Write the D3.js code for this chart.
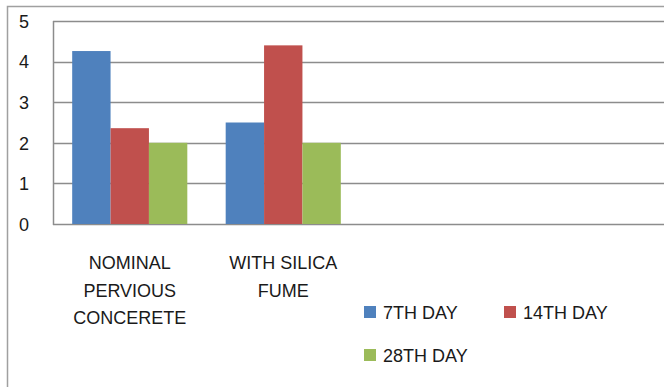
<!DOCTYPE html>
<html>
<head>
<meta charset="utf-8">
<script src="https://cdn.jsdelivr.net/npm/d3@7"></script>
<style>
  html, body { margin: 0; padding: 0; background: #fff; }
  svg { display: block; font-family: "Liberation Sans", Arial, sans-serif; }
</style>
</head>
<body>
<div id="chart"></div>
<script>
// Compressive strength by curing age - two mixes
const categories = [
  ['NOMINAL', 'PERVIOUS', 'CONCERETE'],
  ['WITH SILICA', 'FUME']
];
const seriesNames = ['7TH DAY', '14TH DAY', '28TH DAY'];
const day7 = [4.26, 2.5];
const day14 = [2.36, 4.4];
const day28 = [2.0, 2.0];
const yTicks = [0, 1, 2, 3, 4, 5];
const colors = ['#4F81BD', '#C0504D', '#9BBB59'];

const width = 664, height = 387;
const margin = { top: 21, left: 53, bottom: 224 };
const bandWidth = 153.5;

const svg = d3.select('#chart')
  .append('svg')
  .attr('width', width)
  .attr('height', height);

// outer chart border (cropped on right/bottom)
svg.append('path')
  .attr('d', `M7.5,${height} V6.5 H${width}`)
  .attr('fill', 'none')
  .attr('stroke', '#a0a0a0')
  .attr('stroke-width', 1.5);

const catIdx = categories.map((d, i) => i);
const x0 = d3.scaleBand()
  .domain(catIdx)
  .range([margin.left, margin.left + bandWidth * categories.length])
  .paddingInner(0.25)
  .paddingOuter(0.125);

const x1 = d3.scaleBand()
  .domain(seriesNames)
  .range([0, x0.bandwidth()]);

const y = d3.scaleLinear()
  .domain([0, 5])
  .range([margin.bottom, margin.top]);

// gridlines
svg.append('g')
  .selectAll('line')
  .data(yTicks)
  .join('line')
  .attr('x1', margin.left)
  .attr('x2', width)
  .attr('y1', d => Math.round(y(d)) + 0.5)
  .attr('y2', d => Math.round(y(d)) + 0.5)
  .attr('stroke', '#8c8c8c')
  .attr('stroke-width', 1.5);

// y axis line
svg.append('line')
  .attr('x1', margin.left + 0.5)
  .attr('x2', margin.left + 0.5)
  .attr('y1', y(5))
  .attr('y2', y(0) + 1)
  .attr('stroke', '#8c8c8c')
  .attr('stroke-width', 1.5);

// y tick labels
svg.append('g')
  .selectAll('text')
  .data(yTicks)
  .join('text')
  .attr('x', 29)
  .attr('y', d => y(d) + 2)
  .attr('text-anchor', 'end')
  .attr('dominant-baseline', 'middle')
  .attr('font-size', 18)
  .attr('fill', '#1a1a1a')
  .text(d => d);

// bars
const series = [day7, day14, day28];
const groups = svg.append('g')
  .selectAll('g')
  .data(catIdx)
  .join('g')
  .attr('transform', i => `translate(${x0(i)},0)`);

groups.selectAll('rect')
  .data(i => seriesNames.map((name, s) => ({ name, s, value: series[s][i] })))
  .join('rect')
  .attr('x', d => x1(d.name))
  .attr('width', x1.bandwidth())
  .attr('y', d => y(d.value))
  .attr('height', d => y(0) - y(d.value))
  .attr('fill', d => colors[d.s]);

// category labels
svg.append('g')
  .selectAll('text')
  .data(catIdx)
  .join('text')
  .attr('x', i => x0(i) + x0.bandwidth() / 2)
  .attr('text-anchor', 'middle')
  .attr('font-size', 18)
  .attr('fill', '#1a1a1a')
  .selectAll('tspan')
  .data(i => categories[i])
  .join('tspan')
  .attr('x', function () { return this.parentNode.getAttribute('x'); })
  .attr('y', (d, j) => 269 + j * 27.5)
  .text(d => d);

// legend
const legendPos = [[364, 306], [504, 306], [364, 349]];
const legend = svg.append('g')
  .selectAll('g')
  .data(seriesNames)
  .join('g')
  .attr('transform', (d, i) => `translate(${legendPos[i][0]},${legendPos[i][1]})`);

legend.append('rect')
  .attr('width', 12)
  .attr('height', 12)
  .attr('fill', (d, i) => colors[i]);

legend.append('text')
  .attr('x', 19)
  .attr('y', 12.5)
  .attr('font-size', 18)
  .attr('fill', '#1a1a1a')
  .text(d => d);
</script>
</body>
</html>
